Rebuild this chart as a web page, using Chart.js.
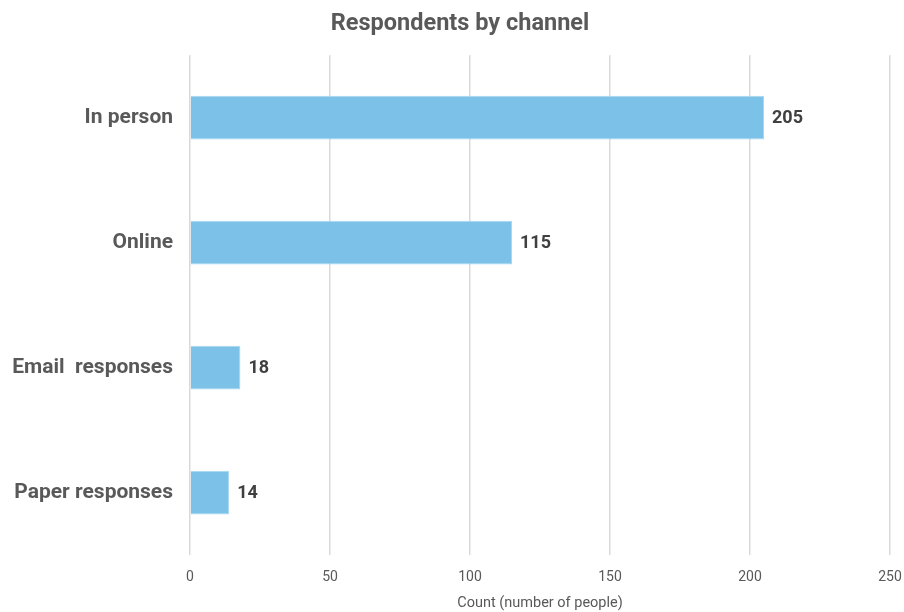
<!DOCTYPE html>
<html>
<head>
<meta charset="utf-8">
<script src="https://cdn.jsdelivr.net/npm/chart.js@4"></script>
<style>
  html, body { margin: 0; padding: 0; background: #fff; }
  #wrap { width: 904px; height: 612px; }
</style>
</head>
<body>
<div id="wrap"><canvas id="channelChart" width="904" height="612"></canvas></div>
<script>
const channels = ["In person", "Online", "Email  responses", "Paper responses"];
const counts = [205, 115, 18, 14];
const xTicks = [0, 50, 100, 150, 200, 250];

// draws the count just right of each bar
const barValues = {
  id: "barValues",
  afterDatasetsDraw(chart) {
    const ctx = chart.ctx;
    const meta = chart.getDatasetMeta(0);
    ctx.save();
    ctx.font = "bold 18px Roboto, 'Liberation Sans', sans-serif";
    ctx.fillStyle = "#404040";
    ctx.textBaseline = "middle";
    meta.data.forEach((bar, i) => {
      ctx.fillText(String(counts[i]), bar.x + 8, bar.y + 1);
    });
    ctx.restore();
  }
};

// title sits a bit right of the canvas centre in the original
const titleShift = {
  id: "titleShift",
  afterLayout(chart) {
    if (chart.titleBlock) chart.titleBlock.left += 16;
  }
};

new Chart(document.getElementById("channelChart").getContext("2d"), {
  type: "bar",
  data: {
    labels: channels,
    datasets: [{
      data: counts,
      backgroundColor: "#7bc1e8",
      borderColor: "#a9d7f1",
      borderWidth: 1,
      categoryPercentage: 1,
      barPercentage: 0.35
    }]
  },
  options: {
    indexAxis: "y",
    responsive: false,
    animation: false,
    layout: { padding: { left: 0, right: 0, top: 10, bottom: 0 } },
    plugins: {
      legend: { display: false },
      tooltip: { enabled: false },
      title: {
        display: true,
        text: "Respondents by channel",
        color: "#595959",
        font: { family: "Roboto, 'Liberation Sans', sans-serif", size: 23.5, weight: "bold" },
        padding: { top: 0, bottom: 17 }
      }
    },
    scales: {
      x: {
        min: 0,
        max: 250,
        afterBuildTicks: scale => { scale.ticks = xTicks.map(v => ({ value: v })); },
        afterFit: scale => { scale.height = 57; scale.paddingRight = 14; },
        grid: { color: "#d9d9d9", lineWidth: 1.5, drawTicks: false },
        border: { display: false },
        ticks: {
          color: "#595959",
          padding: 14,
          font: { family: "'Liberation Sans Narrow', Roboto, sans-serif", size: 14 }
        },
        title: {
          display: true,
          text: "Count (number of people)",
          color: "#595959",
          padding: { top: 6, bottom: 0 },
          font: { family: "'Liberation Sans Narrow', Roboto, sans-serif", size: 14.5 }
        }
      },
      y: {
        grid: { display: false },
        border: { display: false },
        afterFit: scale => { scale.width = 190; },
        ticks: {
          color: "#595959",
          padding: 9,
          font: { family: "Roboto, 'Liberation Sans', sans-serif", size: 21, weight: "bold" }
        }
      }
    }
  },
  plugins: [barValues, titleShift]
});
</script>
</body>
</html>
